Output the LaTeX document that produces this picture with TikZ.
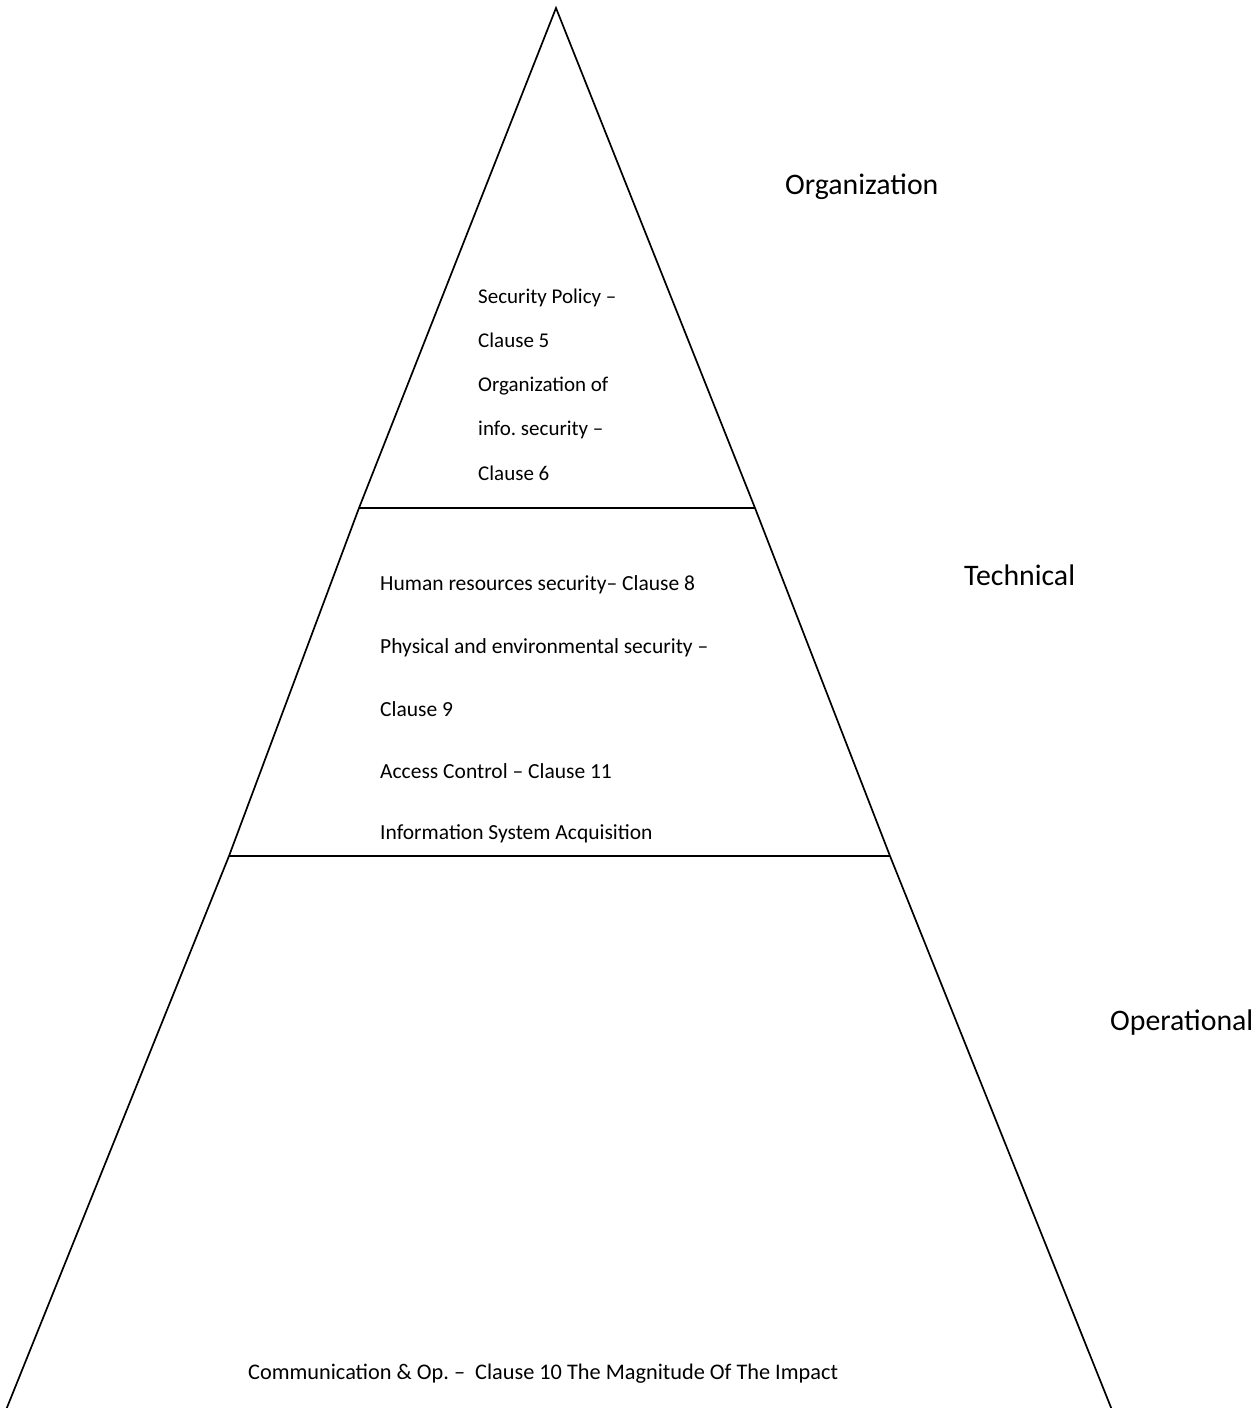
\documentclass[tikz,border=0pt]{standalone}
\usepackage{fontspec}
\setmainfont{Carlito}
\frenchspacing
\begin{document}
\begin{tikzpicture}[x=1pt,y=-1pt,
  edge/.style={line width=1.7pt, line join=miter},
  layer/.style={anchor=base west, inner sep=0pt, font=\fontsize{29.8}{32}\selectfont},
  item/.style={anchor=base west, inner sep=0pt, font=\fontsize{21}{23}\selectfont},
  itemb/.style={anchor=base west, inner sep=0pt, font=\fontsize{21.5}{23}\selectfont},
  itemc/.style={anchor=base west, inner sep=0pt, font=\fontsize{22.3}{24}\selectfont}]
\useasboundingbox (0,0) rectangle (1259,1408);
\fill[white] (0,0) rectangle (1259,1408);

% corner points of the three tiers
\coordinate (apex) at (556,8);
\coordinate (t1l) at (359,508);
\coordinate (t1r) at (755,508);
\coordinate (t2l) at (229,856);
\coordinate (t2r) at (890,856);
\coordinate (t3l) at (6,1410);
\coordinate (t3r) at (1112,1410);

% outline of the pyramid
\draw[edge] (t1l) -- (apex) -- (t1r);
\draw[edge] (t1l) -- (t1r);
\draw[edge] (t1l) -- (t2l);
\draw[edge] (t1r) -- (t2r);
\draw[edge] (t2l) -- (t2r);
\draw[edge] (t2l) -- (t3l);
\draw[edge] (t2r) -- (t3r);

% tier names
\node[layer] (org) at (785,194) {Organization};
\node[layer] (tech) at (964,585) {Technical};
\node[layer] (oper) at (1110,1030) {Operational};

% top tier
\node[item] (a1) at (478,303) {Security Policy~–};
\node[item] (a2) at (478,347) {Clause 5};
\node[item] (a3) at (478,391) {Organization of};
\node[item] (a4) at (478,435) {info. security~–};
\node[item] (a5) at (478,480) {Clause 6};

% middle tier
\node[itemb] (b1) at (380,590) {Human resources security– Clause 8};
\node[itemb] (b2) at (380,653) {Physical and environmental security~–};
\node[itemb] (b3) at (380,716) {Clause 9};
\node[itemb] (b4) at (380,778) {Access Control – Clause 11};
\node[itemb] (b5) at (380,839) {Information System Acquisition};

% bottom tier
\node[itemc] (c1) at (248,1379) {Communication \& Op. –\ \ Clause 10 The Magnitude Of The Impact};
\end{tikzpicture}
\end{document}
